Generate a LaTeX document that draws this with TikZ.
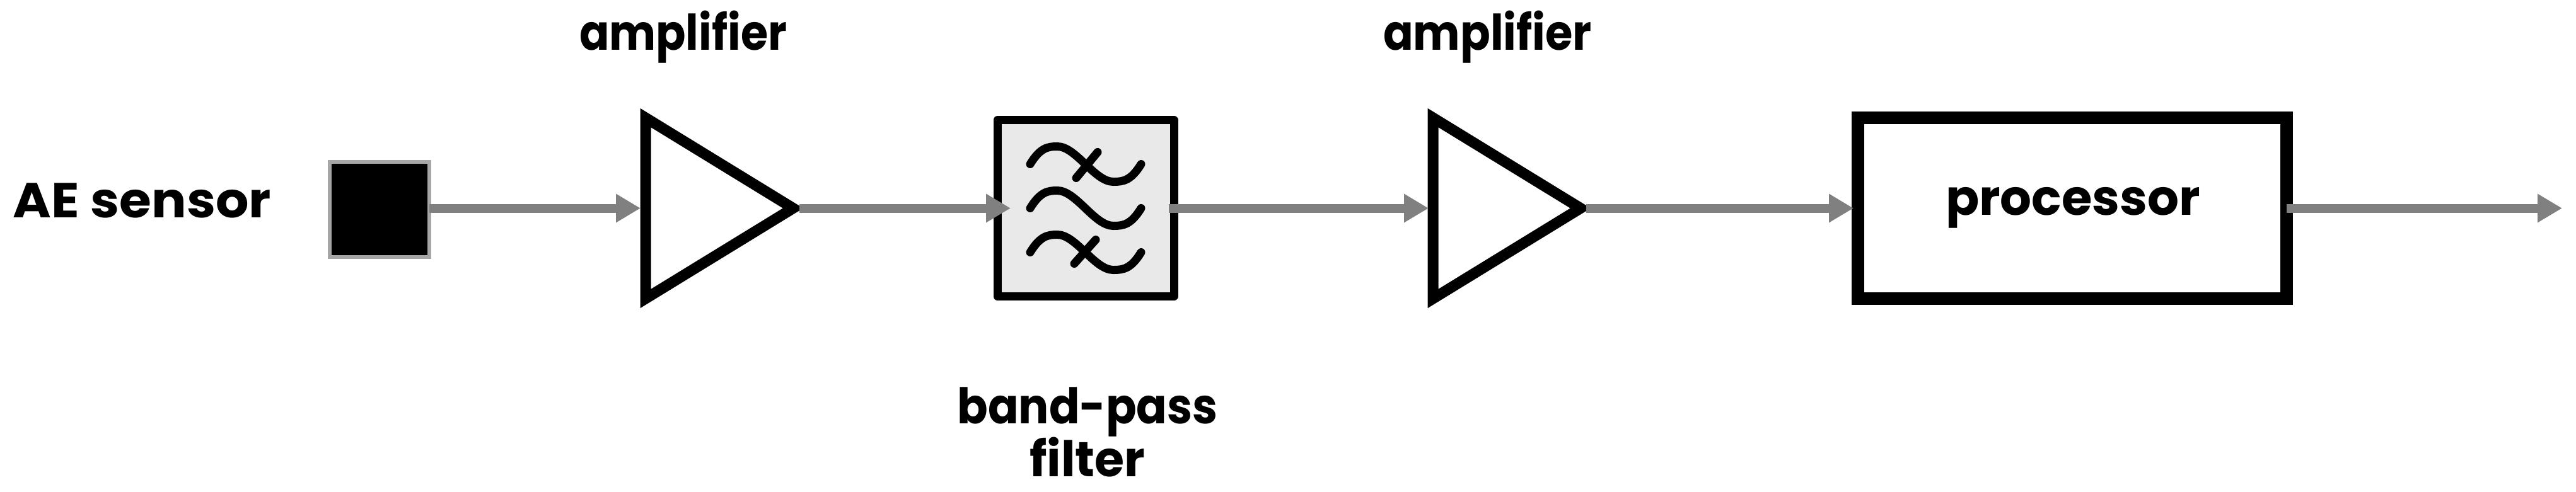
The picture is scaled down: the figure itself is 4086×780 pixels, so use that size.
\documentclass[tikz,border=0pt]{standalone}
\usepackage{fontspec}
\setmainfont{Poppins}
\usetikzlibrary{arrows.meta,shapes.geometric}
\newcommand{\fitlabel}[2]{\resizebox{#1pt}{\height}{#2}}
\tikzset{
  lbl/.style={anchor=base,inner sep=0pt,outer sep=0pt,font=\fontsize{78}{78}\selectfont\bfseries},
  ampbox/.style={isosceles triangle,isosceles triangle stretches=true,shape border rotate=0,anchor=apex,draw=black,fill=white,line width=17pt,minimum width=287pt,minimum height=234pt,inner sep=0pt,outer sep=0pt,miter limit=10},
  sensorbox/.style={rectangle,draw=sensorgray,fill=black,line width=6pt,minimum width=158pt,minimum height=151pt,inner sep=0pt,outer sep=0pt},
  filterbox/.style={rectangle,draw=black,fill=filterfill,line width=13pt,line join=round,minimum width=280pt,minimum height=280pt,inner sep=0pt,outer sep=0pt},
  procbox/.style={rectangle,draw=black,fill=white,line width=20pt,minimum width=680pt,minimum height=287pt,inner sep=0pt,outer sep=0pt},
  link/.style={draw=linkgray,line width=14pt,-{Triangle[length=39pt,width=43pt]}},
  wave/.style={draw=black,line width=13pt,line cap=round}
}
\definecolor{sensorgray}{HTML}{A6A6A6}
\definecolor{filterfill}{HTML}{E9E9E9}
\definecolor{linkgray}{HTML}{808080}
\begin{document}
\begin{tikzpicture}[x=1pt,y=-1pt]
\useasboundingbox (0,0) rectangle (4086,780);
\fill[white] (0,0) rectangle (4086,780);
\node[sensorbox] (sensor) at (602,332.5) {};
\node[ampbox] (amp1) at (1258,330.5) {};
\node[filterbox] (filter) at (1722,330.5) {};
\node[ampbox] (amp2) at (2507,330.5) {};
\node[procbox] (proc) at (3287,330.5) {};
\coordinate (out) at (4064,330.5);
\node[lbl] (lsensor) at (225.5,345) {\fitlabel{409}{AE sensor}};
\node[lbl] (lamp1) at (1083.5,79) {\fitlabel{329}{amplifier}};
\node[lbl] (lamp2) at (2359.5,79) {\fitlabel{331}{amplifier}};
\node[lbl] (lband) at (1725,672) {\fitlabel{413}{band-pass}};
\node[lbl] (lfilter) at (1725,756) {\fitlabel{183}{filter}};
\node[lbl] (lproc) at (3288,341) {\fitlabel{404}{processor}};
\begin{scope}[shift={(filter.center)}]
  \foreach \dy in {-70,0,70}
    \draw[wave] (-88,\dy) .. controls (-72,\dy-26) and (-60,\dy-28) .. (-45,\dy-28)
      .. controls (-15,\dy-28) and (14,\dy+28) .. (44,\dy+28)
      .. controls (60,\dy+28) and (72,\dy+26) .. (88,\dy);
  \draw[wave] (-15,-48) -- (19,-89);
  \draw[wave] (-18,88) -- (16,50);
\end{scope}
\draw[link,shorten >=8pt] (sensor.east |- amp1.lower side) -- (amp1.lower side);
\draw[link,shorten <=10pt,shorten >=-21pt] (amp1.apex) -- (filter.west);
\draw[link,shorten <=-8pt,shorten >=7pt] (filter.east) -- (amp2.lower side);
\draw[link,shorten <=9pt,shorten >=7pt] (amp2.apex) -- (proc.west);
\draw[link] (proc.east) -- (out);
\end{tikzpicture}
\end{document}
